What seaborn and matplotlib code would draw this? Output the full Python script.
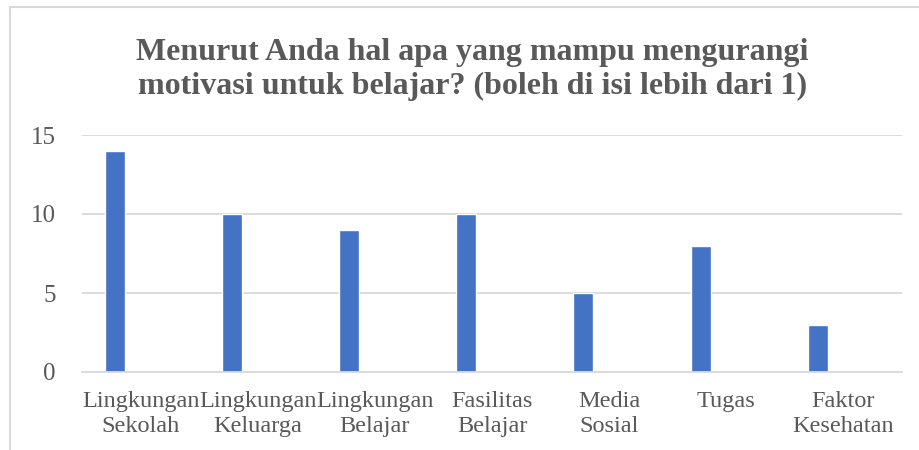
import matplotlib
matplotlib.use('Agg')
import matplotlib.pyplot as plt
import pandas as pd
import seaborn as sns
from matplotlib.lines import Line2D

# chart data
categories = ['Lingkungan\nSekolah', 'Lingkungan\nKeluarga', 'Lingkungan\nBelajar',
              'Fasilitas\nBelajar', 'Media\nSosial', 'Tugas', 'Faktor\nKesehatan']
values = [14, 10, 9, 10, 5, 8, 3]
series_order = ['Seri 1', 'Seri 2', 'Seri 3']
y_ticks = [0, 5, 10, 15]
title = ('Menurut Anda hal apa yang mampu mengurangi\n'
         'motivasi untuk belajar? (boleh di isi lebih dari 1)')

bar_color = '#4472C4'
text_color = '#595959'
grid_color = '#D9D9D9'

df = pd.DataFrame({'kategori': categories, 'jumlah': values,
                   'seri': series_order[0]})

sns.set_style('white')
plt.rcParams['font.family'] = ['Liberation Serif', 'DejaVu Serif']

fig = plt.figure(figsize=(9.19, 4.5), dpi=100)
ax = fig.add_axes([82 / 919, 1 - 372 / 450, 820 / 919, 237 / 450])

# only the first series of an Excel clustered chart holds data
sns.barplot(data=df, x='kategori', y='jumlah', hue='seri', hue_order=series_order,
            palette=[bar_color] * 3, width=0.657, gap=0.22, dodge=True,
            legend=False, saturation=1, ax=ax)

ax.set_ylim(0, 15)
ax.set_yticks(y_ticks)
ax.set_xlabel('')
ax.set_ylabel('')
ax.yaxis.grid(True, color=grid_color, linewidth=1.3)
ax.set_axisbelow(True)
for s in ['top', 'right', 'left']:
    ax.spines[s].set_visible(False)
ax.spines['bottom'].set_color(grid_color)
ax.spines['bottom'].set_linewidth(1.3)
ax.tick_params(axis='y', length=0, pad=19, labelsize=18, labelcolor=text_color)
ax.tick_params(axis='x', length=0, pad=14, labelsize=17.5, labelcolor=text_color)
for lab in ax.get_xticklabels():
    lab.set_linespacing(1.25)

fig.text(0.514, 0.916, title, ha='center', va='top', fontsize=23,
         fontweight='bold', color=text_color, linespacing=1.25)

# chart area border (top and left visible)
fig.add_artist(Line2D([10 / 919, 1], [1 - 7 / 450] * 2, color=grid_color,
                      linewidth=1.5, transform=fig.transFigure))
fig.add_artist(Line2D([10 / 919] * 2, [0, 1 - 7 / 450], color=grid_color,
                      linewidth=1.5, transform=fig.transFigure))

fig.savefig('out.png', dpi=100, facecolor='white')
